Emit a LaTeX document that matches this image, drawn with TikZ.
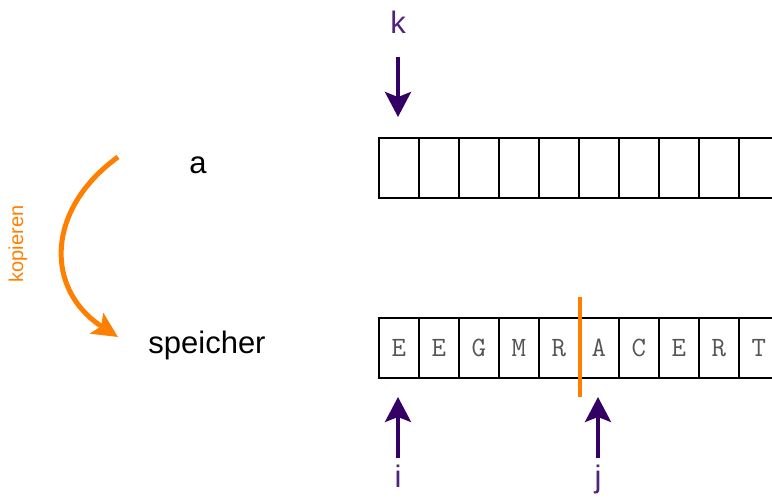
\documentclass[tikz,border=0pt]{standalone}
\usepackage{fontspec}
\setmainfont{Liberation Sans}
\usetikzlibrary{arrows.meta}
\definecolor{ptr}{RGB}{51,0,102}
\definecolor{ptrlabel}{RGB}{80,35,125}
\definecolor{copyorange}{RGB}{255,128,0}
\definecolor{cellgray}{RGB}{85,85,85}
\tikzset{
  cellbox/.style={draw=black, line width=1.6pt, minimum width=40pt, minimum height=60pt, inner sep=0pt, anchor=north west,
    font=\ttfamily\fontsize{28}{28}\selectfont, text=cellgray},
  ptrarrow/.style={draw=ptr, line width=3.5pt, -{Stealth[length=25pt,width=26pt,inset=5pt]}},
  ptrtext/.style={text=ptrlabel, font=\fontsize{31}{31}\selectfont, anchor=base, inner sep=0pt},
  vartext/.style={text=black, font=\fontsize{31}{31}\selectfont, anchor=base, inner sep=0pt},
}
\begin{document}
\begin{tikzpicture}[x=1pt,y=-1pt]
\useasboundingbox (0,0) rectangle (772,501);
\clip (0,0) rectangle (772,501);
\fill[white] (0,0) rectangle (772,501);
% top array a
\foreach \n in {0,...,10} {
  \node[cellbox] (a\n) at ({378+40*\n},137) {};
}
% bottom array speicher
\foreach \n/\t in {0/E,1/E,2/G,3/M,4/R,5/A,6/C,7/E,8/R,9/T,10/{}} {
  \node[cellbox] (s\n) at ({378+40*\n},317) {\t};
}
% labels
\node[vartext] (la) at (198,173) {a};
\node[vartext] (ls) at (207,353) {speicher};
\node[text=copyorange, font=\fontsize{20}{20}\selectfont, rotate=90, inner sep=0pt] (kop) at (18,244) {kopieren};
% copy arrow
\coordinate (cstart) at (118,157);
\coordinate (cend) at (118,337);
\draw[copyorange, line width=5pt, -{Stealth[length=25pt,width=24pt,inset=5pt]}] (cstart) .. controls (45,210) and (45,290) .. (cend);
% pointer k
\node[ptrtext] (k) at (398,33) {k};
\coordinate (ktop) at (398,57);
\coordinate (ktip) at (398,117);
\draw[ptrarrow] (ktop) -- (ktip);
% pointer i
\node[ptrtext] (i) at (398,487) {i};
\coordinate (ibot) at (398,458);
\coordinate (itip) at (398,397);
\draw[ptrarrow] (ibot) -- (itip);
% pointer j
\node[ptrtext] (j) at (598,487) {j};
\coordinate (jbot) at (598,458);
\coordinate (jtip) at (598,397);
\draw[ptrarrow] (jbot) -- (jtip);
% divider
\coordinate (dtop) at (579.5,297);
\coordinate (dbot) at (579.5,397);
\draw[copyorange, line width=4pt] (dtop) -- (dbot);
\end{tikzpicture}
\end{document}
